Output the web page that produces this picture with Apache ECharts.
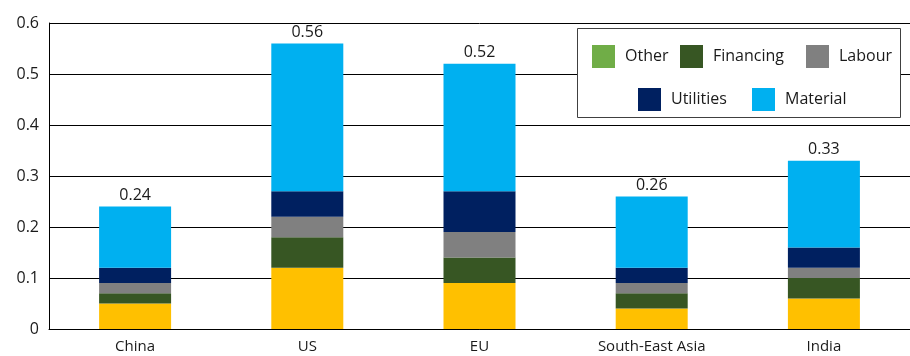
<!DOCTYPE html>
<html>
<head>
<meta charset="utf-8">
<script src="https://cdn.jsdelivr.net/npm/echarts@6/dist/echarts.min.js"></script>
<style>html,body{margin:0;padding:0;background:#fff;}#c{width:910px;height:356px;}</style>
</head>
<body>
<div id="c"></div>
<script>
const categories = ['China', 'US', 'EU', 'South-East Asia', 'India'];
const equipment = [0.05, 0.12, 0.09, 0.04, 0.06];
const other = [0, 0, 0, 0, 0];
const financing = [0.02, 0.06, 0.05, 0.03, 0.04];
const labour = [0.02, 0.04, 0.05, 0.02, 0.02];
const utilities = [0.03, 0.05, 0.08, 0.03, 0.04];
const material = [0.12, 0.29, 0.25, 0.14, 0.17];
const yTicks = [0, 0.1, 0.2, 0.3, 0.4, 0.5, 0.6];

const totals = categories.map((_, i) =>
  equipment[i] + other[i] + financing[i] + labour[i] + utilities[i] + material[i]);

const FONT = 'Open Sans';
const chart = echarts.init(document.getElementById('c'));

function seg(name, data, color, withLabel) {
  const s = {
    name, type: 'bar', stack: 'total', data, barWidth: 72,
    itemStyle: { color },
    emphasis: { disabled: true }
  };
  if (withLabel) {
    s.label = {
      show: true, position: 'top', distance: 3,
      fontFamily: FONT, fontSize: 16, color: '#1a1a1a',
      formatter: p => totals[p.dataIndex].toFixed(2)
    };
  }
  return s;
}

function legendItem(name, left, top) {
  return {
    data: [name], left, top, itemWidth: 23, itemHeight: 23, itemGap: 0,
    icon: 'rect', selectedMode: false,
    textStyle: { fontFamily: FONT, fontSize: 16, color: '#1a1a1a', padding: [0, 0, 0, 5] }
  };
}

chart.setOption({
  animation: false,
  grid: { left: 49, top: 23, width: 873, height: 306, containLabel: false },
  legend: [
    legendItem('Other', 587, 40),
    legendItem('Financing', 675, 40),
    legendItem('Labour', 801, 40),
    legendItem('Utilities', 633, 83),
    legendItem('Material', 747, 83)
  ],
  graphic: [{
    type: 'rect', z: 3,
    shape: { x: 577.5, y: 28.5, width: 323, height: 89 },
    style: { fill: '#fff', stroke: '#404040', lineWidth: 1 }
  }],
  xAxis: {
    type: 'category', data: categories,
    axisLine: { lineStyle: { color: '#000', width: 1 } },
    axisTick: { show: false },
    axisLabel: { fontFamily: FONT, fontSize: 15, color: '#1a1a1a', margin: 10 }
  },
  yAxis: {
    type: 'value', min: 0, max: 0.6, interval: 0.1,
    axisLine: { show: true, lineStyle: { color: '#000', width: 1 } },
    axisTick: { show: false },
    splitLine: { lineStyle: { color: '#000', width: 1 } },
    axisLabel: {
      fontFamily: FONT, fontSize: 16, color: '#1a1a1a', margin: 10,
      formatter: v => { const t = yTicks.find(x => Math.abs(x - v) < 1e-9); return String(t !== undefined ? t : v); }
    }
  },
  series: [
    seg('Equipment', equipment, '#FFC000'),
    seg('Other', other, '#70AD47'),
    seg('Financing', financing, '#375623'),
    seg('Labour', labour, '#808080'),
    seg('Utilities', utilities, '#002060'),
    seg('Material', material, '#00B0F0', true)
  ]
});
</script>
</body>
</html>
